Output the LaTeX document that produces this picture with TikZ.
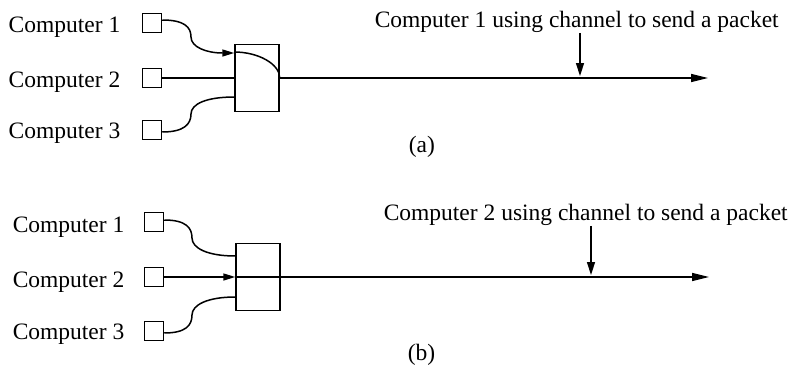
\documentclass[tikz,border=0pt]{standalone}
\usepackage{fontspec}
\setmainfont{Liberation Serif}
\usetikzlibrary{arrows.meta}
\begin{document}
\begin{tikzpicture}[x=1pt,y=-1pt,line width=1.5pt,
  comp/.style={draw,minimum size=19pt,inner sep=0pt},
  switchbox/.style={draw,minimum width=44pt,minimum height=67pt,inner sep=0pt},
  lbl/.style={anchor=base west,inner sep=0pt,font=\fontsize{23.5}{28}\selectfont},
  tipin/.style={-{Triangle[length=12pt,width=7pt]}},
  tipout/.style={-{Triangle[length=17pt,width=8pt]}},
  tipdown/.style={-{Triangle[length=13pt,width=8pt]}}]
\useasboundingbox (0,0) rectangle (804,367);
% ---------- panel (a)
\node[lbl] (ta1) at (8,32) {Computer 1};
\node[lbl] (ta2) at (8,87) {Computer 2};
\node[lbl] (ta3) at (8,138) {Computer 3};
\node[comp] (a1) at (152,23) {};
\node[comp] (a2) at (152,78) {};
\node[comp] (a3) at (152,130) {};
\node[switchbox] (sa) at (257,78) {};
\coordinate (ma1) at (191,37);
\coordinate (ma3) at (191,114);
\draw[tipin] ([yshift=3pt]a1.east) .. controls +(22,0) and +(0,-10) .. (ma1)
   .. controls +(0,10) and +(-28,0) .. ([yshift=25pt]sa.west);
\draw ([yshift=26pt]sa.west) .. controls +(24,0) and +(0,-14) .. (sa.east);
\draw (a2.east) -- (sa.west);
\draw ([yshift=-2pt]a3.east) .. controls +(22,0) and +(0,10) .. (ma3)
   .. controls +(0,-10) and +(-28,0) .. ([yshift=-19pt]sa.west);
\coordinate (ea) at (708,78);
\draw[tipout] (sa.east) -- (ea);
\node[lbl] (la) at (374,27) {Computer 1 using channel to send a packet};
\coordinate (pa) at (580,76);
\draw[tipdown] (la.south -| pa) -- (pa);
\node[lbl] (ca) at (408,152) {(a)};
% ---------- panel (b)
\node[lbl] (tb1) at (12,232) {Computer 1};
\node[lbl] (tb2) at (12,287) {Computer 2};
\node[lbl] (tb3) at (12,339) {Computer 3};
\node[comp] (b1) at (154,222) {};
\node[comp] (b2) at (154,277) {};
\node[comp] (b3) at (154,331) {};
\node[switchbox] (sb) at (258,277) {};
\coordinate (mb1) at (192,238);
\coordinate (mb3) at (192,315);
\draw ([yshift=2pt]b1.east) .. controls +(22,0) and +(0,-10) .. (mb1)
   .. controls +(0,10) and +(-28,0) .. ([yshift=21pt]sb.west);
\draw[tipin] (b2.east) -- (sb.west);
\draw ([yshift=-2pt]b3.east) .. controls +(22,0) and +(0,10) .. (mb3)
   .. controls +(0,-10) and +(-28,0) .. ([yshift=-20pt]sb.west);
\coordinate (eb) at (709,277);
\draw[tipout] (sb.west) -- (eb);
\node[lbl] (lb) at (383,220) {Computer 2 using channel to send a packet};
\coordinate (pb) at (591,275);
\draw[tipdown] (lb.south -| pb) -- (pb);
\node[lbl] (cb) at (407,360) {(b)};
\end{tikzpicture}
\end{document}
